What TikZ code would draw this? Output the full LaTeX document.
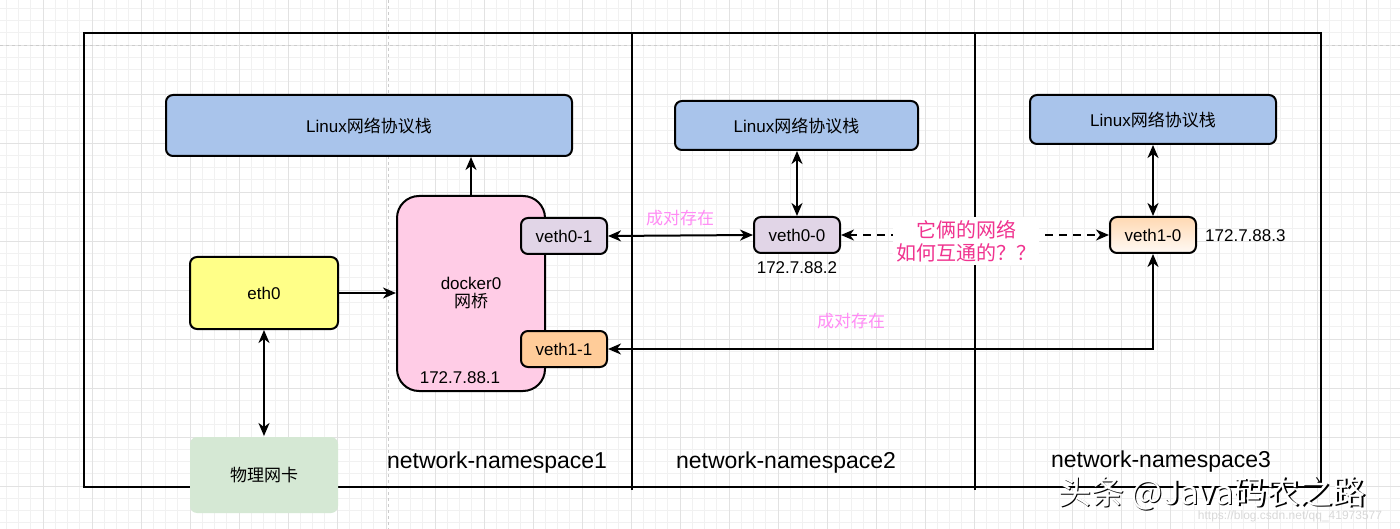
\documentclass[tikz,border=0pt]{standalone}
\usepackage{fontspec}
\setmainfont{Liberation Sans}
\newfontfamily\cjk{Noto Sans CJK SC}
\usetikzlibrary{arrows.meta}
\definecolor{stackblue}{HTML}{A9C4EB}
\definecolor{dockpink}{HTML}{FFCCE6}
\definecolor{vethpurple}{HTML}{E1D5E7}
\definecolor{vethorange}{HTML}{FFCC99}
\definecolor{ethyellow}{HTML}{FFFF88}
\definecolor{phygreen}{HTML}{D5E8D4}
\definecolor{pairpink}{HTML}{FF8CF5}
\definecolor{askmagenta}{HTML}{F0338F}
\definecolor{gridminor}{HTML}{F1F1F1}
\definecolor{gridmajor}{HTML}{E2E2E2}
\begin{document}
\begin{tikzpicture}[x=1pt,y=-1pt,
  >={Stealth[length=13pt,width=11pt,inset=4pt]},
  box/.style={draw=black,line width=2pt,rounded corners=7pt,inner sep=0pt,font=\fontsize{17}{20}\selectfont,align=center},
  stackbox/.style={box,fill=stackblue},
  vethbox/.style={box,minimum width=86pt,minimum height=36pt},
  conn/.style={line width=2pt},
  lbl/.style={inner sep=0pt,font=\fontsize{17}{20}\selectfont},
  nslbl/.style={inner sep=0pt,font=\fontsize{23}{26}\selectfont},
  pairlbl/.style={inner sep=0pt,text=pairpink,font=\fontsize{17}{20}\selectfont\cjk},
  frame/.style={line width=2pt}]
\useasboundingbox (0,0) rectangle (1400,529);
\fill[white] (0,0) rectangle (1400,529);
% grid
\foreach \i in {0,...,115} {\draw[gridminor,line width=0.8pt] ({-6+12.25*\i},0) -- ({-6+12.25*\i},529);}
\foreach \i in {0,...,44} {\draw[gridminor,line width=0.8pt] (0,{-4+12.25*\i}) -- (1400,{-4+12.25*\i});}
\foreach \i in {0,...,29} {\draw[gridmajor,line width=0.8pt] ({-6+49*\i},0) -- ({-6+49*\i},529);}
\foreach \i in {0,...,11} {\draw[gridmajor,line width=0.8pt] (0,{-4+49*\i}) -- (1400,{-4+49*\i});}
\draw[gray!40,dashed,line width=0.8pt] (0,45) -- (1400,45);
\draw[gray!40,dashed,line width=0.8pt] (388,0) -- (388,529);
% frame
\draw[frame] (84,33) rectangle (1321,487);
\draw[frame] (632,33) -- (632,490);
\draw[frame] (975,33) -- (975,490);
% nodes
\node[stackbox,minimum width=406pt,minimum height=61pt] (L1) at (369,125.5) {Linux{\cjk 网络协议栈}};
\node[stackbox,minimum width=243pt,minimum height=49pt] (L2) at (796.5,125.5) {Linux{\cjk 网络协议栈}};
\node[stackbox,minimum width=246pt,minimum height=49pt] (L3) at (1153,119.5) {Linux{\cjk 网络协议栈}};
\node[box,fill=dockpink,rounded corners=22pt,minimum width=148pt,minimum height=195pt] (dock) at (471,293.5) {docker0\\[-2pt]{\cjk 网桥}};
\node[lbl] (ip1) at (460,378) {172.7.88.1};
\node[vethbox,fill=vethpurple] (v01) at (564,236) {veth0-1};
\node[vethbox,fill=vethorange] (v11) at (564,349) {veth1-1};
\node[box,fill=ethyellow,minimum width=148pt,minimum height=72pt] (eth) at (264,293) {eth0};
\node[box,draw=none,fill=phygreen,minimum width=148pt,minimum height=76pt] (phy) at (264,475) {\cjk 物理网卡};
\node[vethbox,fill=vethpurple] (v00) at (797,235) {veth0-0};
\node[vethbox,top color=vethorange!75,bottom color=white!90!vethorange] (v10) at (1153,235) {veth1-0};
\node[lbl] (ip2) at (797,268) {172.7.88.2};
\node[lbl,anchor=west] (ip3) at (1205,236) {172.7.88.3};
\node[pairlbl] (pair1) at (680,218) {成对存在};
\node[pairlbl] (pair2) at (851,321) {成对存在};
\node[nslbl] (ns1) at (497,463) {network-namespace1};
\node[nslbl] (ns2) at (786,463) {network-namespace2};
\node[nslbl] (ns3) at (1161,462) {network-namespace3};
% connectors
\draw[conn,->] (dock.north) -- (dock.north |- L1.south);
\draw[conn,->] (eth.east) -- (dock.west |- eth.east);
\draw[conn,<->] (eth.south) -- (phy.north);
\draw[conn,<->] (v01.east) -- (v00.west);
\draw[conn,<->] (v00.north) -- (v00.north |- L2.south);
\draw[conn,<->] (v10.north) -- (v10.north |- L3.south);
\draw[conn,<->,dash pattern=on 8pt off 6pt] (v00.east) -- (v10.west);
\draw[conn,<->] (v11.east) -- (v10.south |- v11.east) -- (v10.south);
\node[fill=white,inner sep=3pt,align=center,text=askmagenta,font=\fontsize{20}{23}\selectfont\cjk] (ask) at (966,241) {它俩的网络\\如何互通的？？};
% watermark
\node[inner sep=0pt,text=black,font=\fontsize{33}{36}\selectfont\cjk] (wmshadow) at (1213.5,494.5) {头条 @Java码农之路};
\node[inner sep=0pt,text=white,font=\fontsize{33}{36}\selectfont\cjk] (wm) at (1212,493) {头条 @Java码农之路};
\node[inner sep=0pt,text=gray!30,font=\fontsize{12}{14}\selectfont] (url) at (1290,516) {https://blog.csdn.net/qq\_41973577};
\end{tikzpicture}
\end{document}
